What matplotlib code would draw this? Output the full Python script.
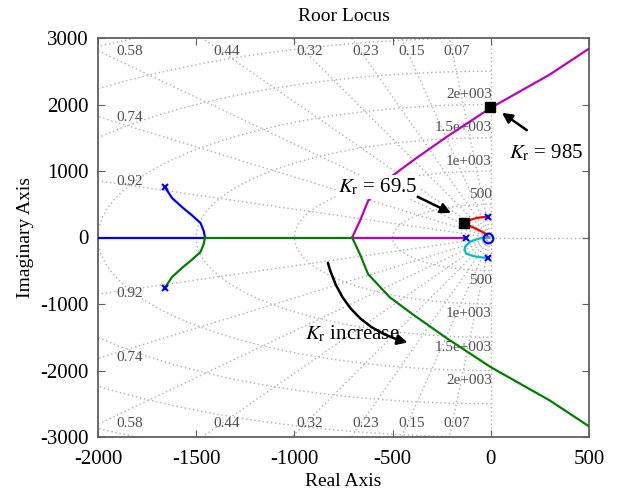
import matplotlib
matplotlib.use('Agg')
import matplotlib.pyplot as plt
import numpy as np

plt.rcParams['font.family'] = ['Liberation Serif', 'DejaVu Serif']
plt.rcParams['mathtext.fontset'] = 'stix'
plt.rcParams['axes.unicode_minus'] = False

# root locus branches
far_x = [-1660, -1623, -1567, -1520, -1478, -1462, -1455]
far_y = [760, 594, 444, 330, 218, 100, 0]
break_left = -1455
break_right = -706
fast_pole = -126
asym_x = [-706, -665, -625, -514, -400, -224, 0, 300, 500]
asym_y = [0, 260, 550, 900, 1150, 1515, 1950, 2450, 2840]
red_x = [-13, -45, -72, -100, -119, -135, -110, -80, -50, -24, -13]
red_y = [310, 305, 293, 270, 238, 223, 180, 138, 95, 53, 0]
cyan_x = [-13, -45, -72, -100, -126, -133, -131, -106, -80, -55, -13]
cyan_y = [-310, -300, -289, -270, -238, -190, -138, -63, -35, -12, 0]

poles_x = [-1660, -1660, -126, -13, -13]
poles_y = [760, -760, 0, 310, -310]
zeros_x = [-13]
zeros_y = [0]
gain_pts_x = [-135, -3]
gain_pts_y = [223, 1965]

zetas = [0.07, 0.15, 0.23, 0.32, 0.44, 0.58, 0.74, 0.92]
wns = [500, 1000, 1500, 2000, 2500, 3000, 3500]
wn_labels = ['500', '1e+003', '1.5e+003', '2e+003']

xlim = (-2000, 500)
ylim = (-3000, 3000)

fig = plt.figure(figsize=(6.22, 4.95), dpi=100)
ax = fig.add_axes([98 / 622, 1 - 437 / 495, 491 / 622, 399 / 495])

gcol = '#b0b0b0'
gstyle = dict(color=gcol, lw=1.0, ls=(0, (1, 2)), zorder=1)
# sgrid: damping lines and wn circles
for z in zetas:
    s = np.sqrt(1 - z * z)
    r = 5000
    ax.plot([0, -r * z], [0, r * s], **gstyle)
    ax.plot([0, -r * z], [0, -r * s], **gstyle)
    # where the line leaves the box
    yl = 2000 * s / z
    if yl <= 3000:
        lx, ly = -1840, yl - 10
    else:
        lx, ly = -2790 * z / s + 20, 2790
    for sg in (1, -1):
        ax.text(lx, sg * ly, '%.2f' % z, fontsize=11, color='#505050',
                ha='center', va='center', zorder=2)
th = np.linspace(np.pi / 2, 3 * np.pi / 2, 400)
for wn in wns:
    ax.plot(wn * np.cos(th), wn * np.sin(th), **gstyle)
for wn, lab in zip(wns, wn_labels):
    for sg in (1, -1):
        ax.text(5, sg * (wn + 150), lab, fontsize=11, color='#505050',
                ha='right', va='center', zorder=2)
ax.plot([0, 0], list(ylim), **gstyle)
ax.plot([0, xlim[1]], [0, 0], **gstyle)

lw = 1.6
blue = '#0000ff'
green = '#008000'
mag = '#bf00bf'
ax.plot([xlim[0] - 100, break_left], [0, 0], color=blue, lw=lw, zorder=3)
ax.plot(far_x, far_y, color=blue, lw=lw, zorder=3)
ax.plot([break_left, break_right], [0, 0], color=green, lw=lw, zorder=3)
ax.plot(far_x, -np.array(far_y), color=green, lw=lw, zorder=3)
ax.plot([break_right, fast_pole], [0, 0], color=mag, lw=lw, zorder=3)
ax.plot(asym_x, asym_y, color=mag, lw=lw, zorder=3)
ax.plot(asym_x, -np.array(asym_y), color=green, lw=lw, zorder=3)
ax.plot(red_x, red_y, color='#ff0000', lw=lw, zorder=3)
ax.plot(cyan_x, cyan_y, color='#00bfbf', lw=lw, zorder=3)

ax.plot(poles_x, poles_y, 'x', color=blue, ms=5, mew=1.5, zorder=4)
ax.plot(zeros_x, zeros_y, 'o', mfc='none', mec=blue, ms=7, mew=1.5, zorder=4)
ax.plot(gain_pts_x, gain_pts_y, 's', color='black', ms=7, zorder=5)

# annotations
ax.text(-574, 760, r'$K_{\rm r}$ = 69.5', fontsize=15, ha='center', va='center',
        zorder=6, bbox=dict(fc='white', ec='none', pad=1))
ax.annotate('', xy=(-190, 350), xytext=(-385, 630),
            arrowprops=dict(arrowstyle='-|>', color='black', lw=1.8,
                            mutation_scale=15), zorder=6)
ax.text(280, 1270, r'$K_{\rm r}$ = 985', fontsize=15, ha='center', va='center',
        zorder=6)
ax.annotate('', xy=(45, 1900), xytext=(195, 1590),
            arrowprops=dict(arrowstyle='-|>', color='black', lw=1.8,
                            mutation_scale=15), zorder=6)
ax.text(-707, -1450, r'$K_{\rm r}$ increase', fontsize=15, ha='center',
        va='center', zorder=6)
ax.annotate('', xy=(-410, -1590), xytext=(-833, -340),
            arrowprops=dict(arrowstyle='-|>', color='black', lw=1.8,
                            mutation_scale=15,
                            connectionstyle='arc3,rad=0.3'), zorder=6)

ax.set_xlim(xlim)
ax.set_ylim(ylim)
ax.set_xticks(np.arange(-2000, 501, 500))
ax.set_yticks(np.arange(-3000, 3001, 1000))
ax.tick_params(direction='in', top=True, right=True, labelsize=15,
               length=5, color='#606060')
ax.tick_params(axis='x', pad=9)
ax.tick_params(axis='y', pad=7)
for sp in ax.spines.values():
    sp.set_color('#606060')
    sp.set_linewidth(1.3)
ax.set_title('Roor Locus', fontsize=14, pad=12)
ax.set_xlabel('Real Axis', fontsize=14, labelpad=3)
ax.set_ylabel('Imaginary Axis', fontsize=14, labelpad=4)

fig.savefig('out.png', dpi=100)
